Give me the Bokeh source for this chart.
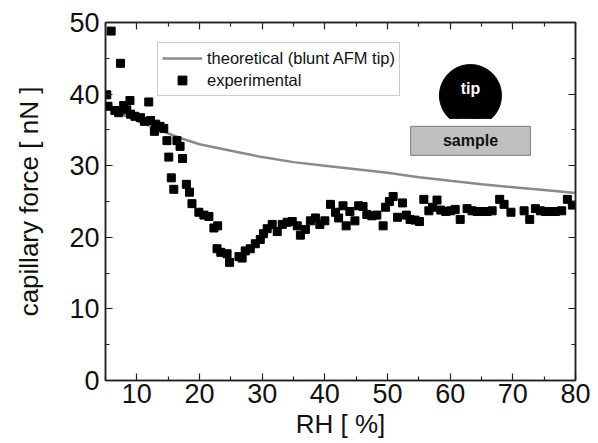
import numpy as np
from bokeh.plotting import figure
from bokeh.models import (FixedTicker, LinearAxis, Legend, LegendItem, Range1d)
from bokeh.core.properties import value
from bokeh.embed import file_html
from bokeh.resources import INLINE

# ---------------- data ----------------
rh_exp = [5.2, 5.4, 5.9, 6.5, 7.1, 7.4, 7.9, 8.4, 8.9, 9.0, 9.7, 10.6, 11.2, 11.9,
          12.2, 12.8, 13.0, 13.7, 14.3, 14.8, 15.1, 15.5, 15.9, 16.4, 16.9, 17.3,
          17.9, 18.4, 18.8, 19.9, 20.7, 21.5, 22.3, 22.9, 22.8, 23.4, 24.4, 24.8,
          26.3, 26.8, 27.3, 28.1, 28.9, 29.7, 30.2, 30.8, 31.6, 32.4, 33.2, 34.0,
          34.8, 35.6, 36.1, 36.9, 37.7, 38.5, 39.2, 40.0, 40.9, 41.7, 42.2, 42.9,
          43.4, 44.0, 44.8, 45.4, 46.1, 46.7, 47.5, 48.3, 49.3, 49.7, 50.3, 50.9,
          51.6, 52.4, 53.0, 53.6, 54.4, 55.1, 55.8, 56.6, 57.2, 57.9, 58.5, 59.3,
          60.1, 60.8, 61.6, 62.7, 63.5, 64.3, 65.1, 65.9, 66.7, 67.9, 68.6, 69.7,
          71.8, 72.7, 73.6, 74.4, 75.2, 76.0, 76.8, 77.8, 78.7, 79.5]
force_exp = [39.9, 38.3, 48.8, 37.7, 37.4, 44.3, 38.4, 37.8, 39.1, 37.2, 36.9, 36.7, 36.2, 38.9,
             36.3, 34.8, 35.8, 35.5, 35.2, 33.5, 31.2, 28.3, 26.7, 33.5, 32.7, 31.0,
             27.4, 26.3, 24.7, 23.5, 23.1, 22.9, 21.3, 21.6, 18.4, 17.9, 17.7, 16.5,
             17.3, 17.1, 18.1, 18.4, 19.1, 19.7, 20.5, 21.2, 21.8, 20.8, 21.8, 22.1,
             22.2, 21.6, 20.3, 21.1, 22.3, 22.7, 21.8, 22.3, 24.6, 23.5, 22.7, 24.4,
             21.6, 23.6, 22.3, 24.4, 24.3, 23.2, 23.0, 23.1, 21.6, 24.2, 25.0, 25.7,
             22.8, 24.8, 23.1, 22.5, 22.4, 22.2, 25.3, 23.7, 24.2, 25.2, 23.8, 23.6,
             23.7, 23.9, 22.5, 24.0, 23.7, 23.6, 23.6, 23.6, 23.7, 25.3, 24.6, 23.5,
             23.7, 22.5, 24.0, 23.7, 23.6, 23.6, 23.6, 23.7, 25.3, 24.5]

rh_theory = [5, 7.5, 10, 12.5, 15, 17.5, 20, 25, 30, 35, 40, 45, 50, 55, 60, 65, 70, 75, 80]
force_theory = [38.3, 37.2, 36.3, 35.4, 34.5, 33.7, 33.0, 32.1, 31.2, 30.5, 30.0, 29.5,
                29.0, 28.4, 27.9, 27.4, 27.0, 26.6, 26.2]

x_ticks = [10, 20, 30, 40, 50, 60, 70, 80]
x_minor = [5, 15, 25, 35, 45, 55, 65, 75]
y_ticks = [0, 10, 20, 30, 40, 50]
y_minor = [5, 15, 25, 35, 45]

legend_labels = ["theoretical (blunt AFM tip)", "experimental"]
FONT = "Liberation Sans"

# ---------------- figure ----------------
p = figure(width=598, height=443, output_backend="svg", toolbar_location=None,
           x_range=Range1d(5, 80), y_range=Range1d(0, 50),
           min_border_left=105, min_border_right=23, min_border_top=22,
           min_border_bottom=63)
p.background_fill_color = "white"
p.border_fill_color = "white"
p.outline_line_color = "#222222"
p.outline_line_width = 1.5
p.xgrid.visible = False
p.ygrid.visible = False

line_r = p.line(rh_theory, force_theory, line_color="#8a8a8a", line_width=2.5)
pts_r = p.scatter(rh_exp, force_exp, marker="square", size=8,
                  fill_color="black", line_color="black", line_width=1)

def style_axis(ax, ticks, minor, show_labels):
    ax.ticker = FixedTicker(ticks=ticks, minor_ticks=minor)
    ax.axis_line_color = "#222222"
    ax.axis_line_width = 1.5
    ax.major_tick_line_color = "#222222"
    ax.minor_tick_line_color = "#222222"
    ax.major_tick_line_width = 1.2
    ax.minor_tick_line_width = 1.2
    ax.major_tick_in = 7
    ax.major_tick_out = 0
    ax.minor_tick_in = 4
    ax.minor_tick_out = 0
    if show_labels:
        ax.major_label_text_font = FONT
        ax.major_label_text_font_size = "27px"
        ax.major_label_text_color = "#111111"
        ax.axis_label_text_font = FONT
        ax.axis_label_text_font_size = "26px"
        ax.axis_label_text_font_style = "normal"
        ax.axis_label_text_color = "#111111"
    else:
        ax.major_label_text_color = None
        ax.major_label_standoff = 0

xa = p.xaxis[0]
style_axis(xa, x_ticks, x_minor, True)
xa.axis_label = "RH [ %]"
xa.major_label_standoff = 3
xa.axis_label_standoff = 3

ya = p.yaxis[0]
style_axis(ya, y_ticks, y_minor, True)
ya.axis_label = "capillary force [ nN ]"
ya.major_label_standoff = 6
ya.axis_label_standoff = 22

top = LinearAxis()
style_axis(top, x_ticks, x_minor, False)
p.add_layout(top, "above")
right = LinearAxis()
style_axis(right, y_ticks, y_minor, False)
p.add_layout(right, "right")

legend = Legend(items=[LegendItem(label=legend_labels[0], renderers=[line_r]),
                       LegendItem(label=legend_labels[1], renderers=[pts_r])],
                location=(52, 284))
legend.label_text_font = FONT
legend.label_text_font_size = "16.5px"
legend.label_text_color = "#111111"
legend.glyph_width = 40
legend.glyph_height = 22
legend.label_height = 22
legend.label_standoff = 5
legend.spacing = 0
legend.padding = 4
legend.margin = 0
legend.border_line_color = "#9a9a9a"
legend.border_line_width = 1
legend.background_fill_alpha = 1
p.add_layout(legend)

# ---------------- tip / sample sketch (pixel layout converted to data units) ----------------
PX_X = 470 / 75.0   # screen px per RH unit
PX_Y = 358.0 / 50.0 # screen px per nN unit
tip_cx, tip_cy = 63.24, 39.8    # data units
tip_r_px = 31
tip_cut_px = 23                  # flat bottom distance below centre (px)
theta = np.linspace(0, 2 * np.pi, 200)
dx = tip_r_px * np.cos(theta)
dy = np.maximum(tip_r_px * np.sin(theta), -tip_cut_px)
p.patch(tip_cx + dx / PX_X, tip_cy + dy / PX_Y, fill_color="black", line_color="black")
p.text(x=[tip_cx], y=[tip_cy + 7 / PX_Y], text=["tip"], text_font=value(FONT),
       text_font_size="16px", text_font_style="bold", text_color="white",
       text_align="center", text_baseline="middle")

sample_left, sample_right = 53.7, 72.8
sample_bottom, sample_top = 31.45, 35.5
p.quad(left=[sample_left], right=[sample_right], bottom=[sample_bottom], top=[sample_top],
       fill_color="#c0c0c0", line_color="#7a7a7a", line_width=1)
p.text(x=[(sample_left + sample_right) / 2], y=[(sample_bottom + sample_top) / 2],
       text=["sample"], text_font=value(FONT), text_font_size="16px",
       text_font_style="bold", text_color="#111111",
       text_align="center", text_baseline="middle")

open("out.html", "w").write(file_html(p, INLINE))
